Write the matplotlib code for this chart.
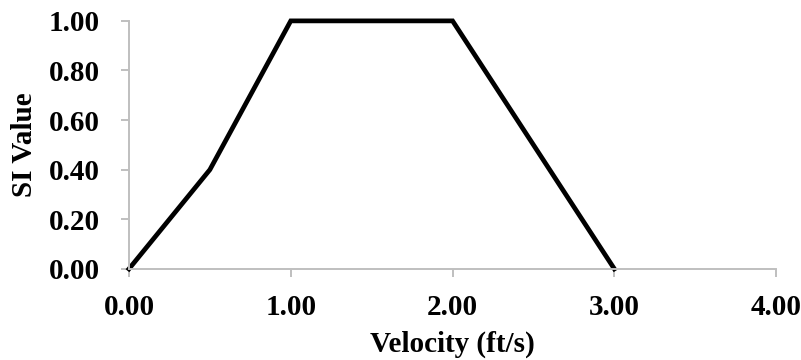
import matplotlib.pyplot as plt

# velocity breakpoints and the suitability index at each
velocity = [0.0, 0.5, 1.0, 2.0, 3.0]
si_value = [0.0, 0.4, 1.0, 1.0, 0.0]

x_ticks = [0, 1, 2, 3, 4]
y_ticks = [0.0, 0.2, 0.4, 0.6, 0.8, 1.0]

plt.rcParams['font.family'] = ['Liberation Serif', 'DejaVu Serif']
plt.rcParams['font.weight'] = 'bold'

fig = plt.figure(figsize=(8.01, 3.6), dpi=100)
ax = fig.add_axes([0.161, 0.253, 0.808, 0.689])

ax.plot(velocity, si_value, color='black', lw=3.4, solid_joinstyle='miter', clip_on=False)

ax.set_xlim(0, 4)
ax.set_ylim(0, 1)
ax.set_xticks(x_ticks)
ax.set_yticks(y_ticks)
ax.set_xticklabels(['%.2f' % v for v in x_ticks])
ax.set_yticklabels(['%.2f' % v for v in y_ticks])

for s in ['top', 'right']:
    ax.spines[s].set_visible(False)
for s in ['left', 'bottom']:
    ax.spines[s].set_color('#bfbfbf')
    ax.spines[s].set_linewidth(1.4)

ax.tick_params(axis='both', color='#bfbfbf', width=1.4, length=6, labelsize=21, direction='out')
ax.tick_params(axis='x', pad=12)
ax.tick_params(axis='y', pad=15)

ax.set_xlabel('Velocity (ft/s)', fontsize=21, fontweight='bold', labelpad=7)
ax.set_ylabel('SI Value', fontsize=21, fontweight='bold', labelpad=8)

plt.savefig('out.png', dpi=100)
